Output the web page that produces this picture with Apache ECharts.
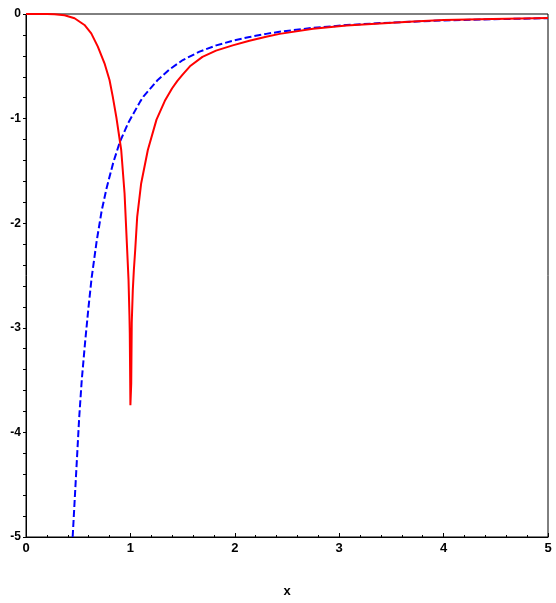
<!DOCTYPE html>
<html>
<head>
<meta charset="utf-8">
<script src="https://cdn.jsdelivr.net/npm/echarts@6/dist/echarts.min.js"></script>
<style>
  html, body { margin: 0; padding: 0; background: #fff; }
  #chart { width: 556px; height: 603px; }
</style>
</head>
<body>
<div id="chart"></div>
<script>
// values
const redX = [0, 0.1, 0.2, 0.273, 0.369, 0.465, 0.56, 0.625, 0.688, 0.752, 0.8, 0.831, 0.866, 0.912, 0.944, 0.969, 0.982, 0.991, 0.994, 1.0,
              1.008, 1.013, 1.023, 1.033, 1.046, 1.065, 1.103, 1.167, 1.25, 1.33, 1.4, 1.45, 1.5, 1.57, 1.69, 1.82, 1.98, 2.14, 2.3, 2.43,
              2.75, 3.07, 3.39, 3.71, 4.0, 4.47, 5.0];
const redY = [0, 0, 0, -0.002, -0.012, -0.041, -0.105, -0.185, -0.312, -0.471, -0.631, -0.79, -0.99, -1.3, -1.714, -2.256, -2.54, -2.89, -3.05, -3.74,
              -3.53, -2.95, -2.64, -2.45, -2.256, -1.94, -1.62, -1.3, -1.01, -0.83, -0.71, -0.64, -0.58, -0.5, -0.41, -0.35, -0.3, -0.255, -0.217, -0.19,
              -0.14, -0.11, -0.09, -0.072, -0.058, -0.047, -0.038];

const blueX = [0.447, 0.51, 0.534, 0.565, 0.597, 0.629, 0.677, 0.725, 0.773, 0.836, 0.9, 0.98, 1.092, 1.124, 1.262, 1.374, 1.502, 1.662, 1.822,
               1.981, 2.141, 2.301, 2.428, 2.75, 3.07, 3.39, 3.71, 4.0, 4.47, 5.0];
const blueY = [-5.0, -3.85, -3.5, -3.15, -2.82, -2.52, -2.17, -1.88, -1.66, -1.42, -1.22, -1.04, -0.84, -0.79, -0.63, -0.53, -0.44, -0.36, -0.3,
               -0.255, -0.22, -0.19, -0.17, -0.132, -0.106, -0.087, -0.073, -0.062, -0.05, -0.04];

const xTicks = [0, 1, 2, 3, 4, 5];
const yTicks = [-5, -4, -3, -2, -1, 0];

const zip = (xs, ys) => xs.map((x, i) => [x, ys[i]]);

const chart = echarts.init(document.getElementById('chart'));

const labelFont = { color: '#000', fontFamily: 'Liberation Sans', fontWeight: 'bold' };

chart.setOption({
    animation: false,
    grid: { left: 26, right: 8, top: 14, bottom: 66, show: true, borderColor: '#000', borderWidth: 1 },
    xAxis: {
        type: 'value',
        min: xTicks[0], max: xTicks[xTicks.length - 1], interval: 1,
        name: 'x', nameLocation: 'middle', nameGap: 48,
        nameTextStyle: Object.assign({ fontSize: 13 }, labelFont),
        axisLine: { onZero: false, lineStyle: { color: '#000', width: 1 } },
        axisTick: { inside: true, length: 4, lineStyle: { color: '#000' } },
        minorTick: { show: true, splitNumber: 5, length: 2, lineStyle: { color: '#000' } },
        axisLabel: Object.assign({ fontSize: 13, margin: 5 }, labelFont),
        splitLine: { show: false }
    },
    yAxis: {
        type: 'value',
        min: yTicks[0], max: yTicks[yTicks.length - 1], interval: 1,
        axisLine: { onZero: false, lineStyle: { color: '#000', width: 1 } },
        axisTick: { inside: false, length: 3, lineStyle: { color: '#000' } },
        minorTick: { show: true, splitNumber: 5, length: 3, lineStyle: { color: '#000' } },
        axisLabel: Object.assign({ fontSize: 12, margin: 5 }, labelFont),
        splitLine: { show: false }
    },
    series: [
        {
            type: 'line',
            data: zip(blueX, blueY),
            showSymbol: false,
            lineStyle: { color: '#0000ff', width: 2, type: [7, 3] },
            z: 2
        },
        {
            type: 'line',
            data: zip(redX, redY),
            showSymbol: false,
            lineStyle: { color: '#ff0000', width: 2 },
            z: 3
        }
    ]
});
</script>
</body>
</html>
